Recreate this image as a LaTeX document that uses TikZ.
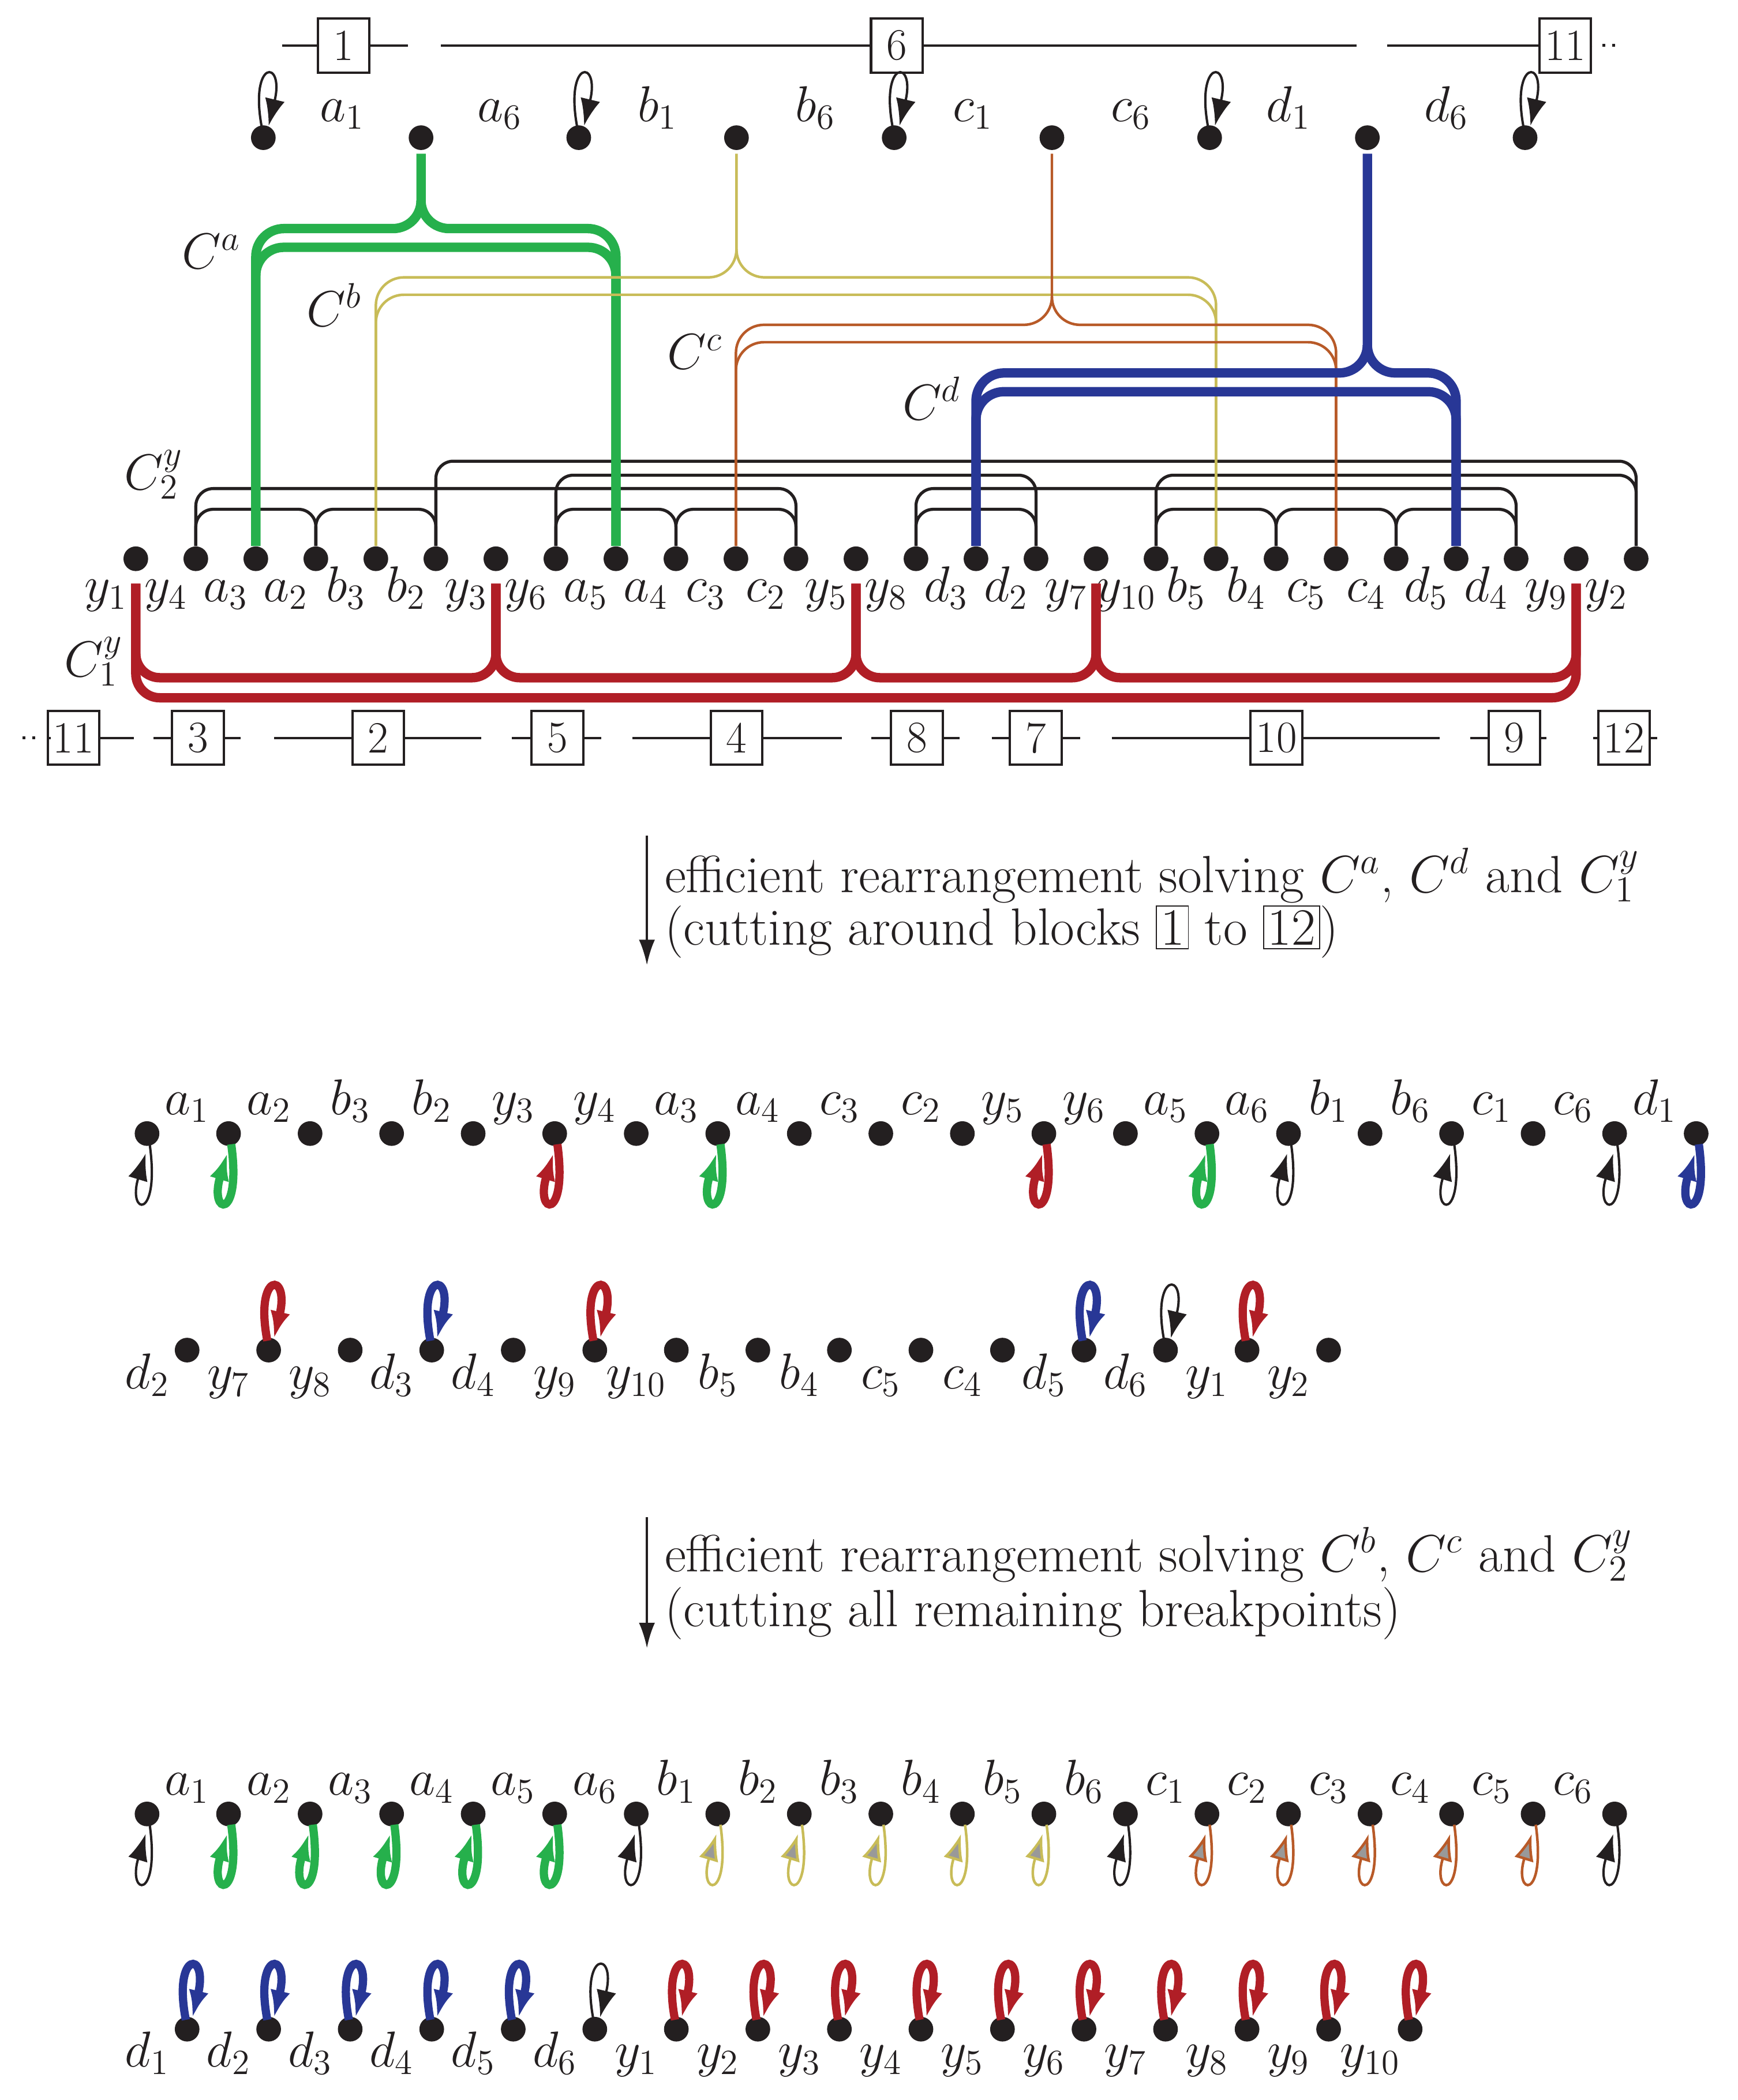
\documentclass[tikz,border=0pt]{standalone}
\usepackage{fix-cm}
\usetikzlibrary{arrows.meta,calc}
\definecolor{cg}{RGB}{38,176,76}
\definecolor{cy}{RGB}{200,188,88}
\definecolor{co}{RGB}{184,90,40}
\definecolor{cb}{RGB}{40,55,150}
\definecolor{cr}{RGB}{176,30,38}
\definecolor{ck}{RGB}{35,31,32}
\newcommand\mx[1]{101.6+44.9*#1}
\newcommand\uploop[2]{\draw[#1] ($(#2)+(-1,-7)$) .. controls +(-10,-52) and +(12,-50) .. ($(#2)+(4,-9)$);}
\newcommand\dnloop[2]{\draw[#1] ($(#2)+(2,8)$) .. controls +(8,58) and +(-14,46) .. ($(#2)+(-1,15)$);}
\newcommand\barch[3]{\draw[bk] (m#1.north) -- ({\mx{#1}},#3+13) to[out=90,in=180] ({\mx{#1}+13},#3) -- ({\mx{#2}-13},#3) to[out=0,in=90] ({\mx{#2}},#3+13) -- (m#2.north);}
\newcommand\rarch[3]{\draw[rd] ($(m#1.south)+(0,9)$) -- ({\mx{#1}},#3-18) to[out=-90,in=180] ({\mx{#1}+18},#3) -- ({\mx{#2}-18},#3) to[out=0,in=-90] ({\mx{#2}},#3-18) -- ($(m#2.south)+(0,9)$);}
\newcommand\ctree[7]{%
\draw[#1] ($(#2)+(0,12)$) -- (#3,#4-21) to[out=-90,in=0] (#3-21,#4) -- ({\mx{#6}+21},#4) to[out=180,in=90] ({\mx{#6}},#4+21) -- (m#6.north);
\draw[#1] (#3,#4-21) to[out=-90,in=180] (#3+21,#4) -- ({\mx{#7}-21},#4) to[out=0,in=90] ({\mx{#7}},#4+21) -- (m#7.north);
\draw[#1] (m#6.north) -- ({\mx{#6}},#5+21) to[out=90,in=180] ({\mx{#6}+21},#5) -- ({\mx{#7}-21},#5) to[out=0,in=90] ({\mx{#7}},#5+21) -- (m#7.north);}
\tikzset{
 dot/.style={circle,fill=ck,inner sep=0pt,minimum size=10.5},
 lab/.style={anchor=base,inner sep=0pt},
 blk/.style={draw=ck,line width=1pt,inner sep=0.8pt,minimum width=22,minimum height=23,font=\fontsize{19}{22}\selectfont},
 bl/.style={ck,line width=1pt,-{Latex[length=0.4cm,width=0.3cm]}},
 gl/.style={cg,line width=3.5pt,-{Latex[length=0.4cm,width=0.3cm]}},
 rl/.style={cr,line width=3.5pt,-{Latex[length=0.4cm,width=0.3cm]}},
 ul/.style={cb,line width=3.5pt,-{Latex[length=0.4cm,width=0.3cm]}},
 yl/.style={cy,line width=1.1pt,-{Latex[length=0.4cm,width=0.3cm,fill=gray!80]}},
 ol/.style={co,line width=1.1pt,-{Latex[length=0.4cm,width=0.3cm,fill=gray!80]}},
 bk/.style={ck,line width=1.3pt},
 rd/.style={cr,line width=4pt},
 gr/.style={cg,line width=4pt},
 yw/.style={cy,line width=1.1pt},
 or/.style={co,line width=1.1pt},
 bu/.style={cb,line width=4pt},
 seg/.style={ck,line width=1pt},
 txt/.style={anchor=west,inner sep=0pt,font=\fontsize{22.3}{26}\selectfont},
}
\begin{document}
\begin{tikzpicture}[x=0.02cm,y=-0.02cm,every node/.append style={font=\fontsize{21.5}{25}\selectfont,text=ck}]
\useasboundingbox (0,0) rectangle (1300,1571);
% top blocks
\node[blk] (T1) at (257,34) {1};
\node[blk] (T6) at (671,34) {6};
\node[blk] (T11) at (1171,34) {11};
\coordinate (ta) at (211,34); \coordinate (tb) at (305,34);
\coordinate (tc) at (330,34); \coordinate (td) at (1015,34);
\coordinate (te) at (1038,34); \coordinate (tf) at (1190,34);
\draw[seg] (ta) -- (T1) -- (tb);
\draw[seg] (tc) -- (T6) -- (td);
\draw[seg] (te) -- (T11) -- (tf);
\coordinate (tg) at (1199,34); \coordinate (th) at (1212,34);
\draw[ck,line width=1.2pt,dash pattern=on 1.2pt off 3pt] (tg) -- (th);
% top dots
\foreach \i in {0,...,8} \node[dot] (t\i) at ({197+118*\i},103) {};
\foreach \l [count=\k from 0] in {a_1,a_6,b_1,b_6,c_1,c_6,d_1,d_6} \node[lab] at ({256+118*\k},91) {$\l$};
\foreach \i in {0,2,4,6,8} {\uploop{bl}{t\i}}
% middle dots
\foreach \i in {0,...,25} \node[dot] (m\i) at ({\mx{\i}},418) {};
\foreach \l [count=\k from 0] in {y_1,y_4,a_3,a_2,b_3,b_2,y_3,y_6,a_5,a_4,c_3,c_2,y_5,y_8,d_3,d_2,y_7,y_{10},b_5,b_4,c_5,c_4,d_5,d_4,y_9,y_2}
  \node[lab] at ({\mx{\k}-22.45},450) {$\l$};
% black brackets
\barch{1}{3}{381}\barch{3}{5}{381}\barch{7}{9}{381}\barch{9}{11}{381}
\barch{13}{15}{381}\barch{17}{19}{381}\barch{19}{21}{381}\barch{21}{23}{381}
\barch{1}{11}{365.5}\barch{13}{23}{365.5}
\barch{7}{15}{355.5}\barch{17}{25}{355.5}
\barch{5}{25}{345}
% coloured trees
\ctree{gr}{t1}{315}{171}{185}{2}{8}
\ctree{yw}{t3}{551}{207.5}{220.5}{4}{18}
\ctree{or}{t5}{787}{243}{256}{10}{20}
\ctree{bu}{t7}{1023}{279}{293}{14}{22}
% red
\rarch{0}{6}{507}\rarch{6}{12}{507}\rarch{12}{16}{507}\rarch{16}{24}{507}
\rarch{0}{24}{522}
\node at (158,188) {$C^a$};
\node at (250,228) {$C^b$};
\node at (520,263) {$C^c$};
\node at (697,298) {$C^d$};
\node at (115,355) {$C^y_2$};
\node at (70,495) {$C^y_1$};
% bottom blocks
\foreach \n/\x/\a/\b in {11/55/38/100,3/148/115/180,2/283/205/360,5/417/383/450,4/551/473/630,8/686/652/718,7/775/742/808,10/955/832/1077,9/1133/1100/1157,12/1215/1192/1240}{
  \node[blk] (B\n) at (\x,552) {\n};
  \coordinate (Bl\n) at (\a,552); \coordinate (Br\n) at (\b,552);
  \draw[seg] (Bl\n) -- (B\n) -- (Br\n);}
\coordinate (ba) at (17,552); \coordinate (bb) at (31,552);
\draw[ck,line width=1.2pt,dash pattern=on 1.2pt off 3pt] (ba) -- (bb);
% first arrow
\coordinate (A1) at (484,625); \coordinate (A2) at (484,722);
\draw[ck,line width=1pt,-{Latex[length=0.38cm,width=0.24cm]}] (A1) -- (A2);
\node[txt] at (497,655) {efficient rearrangement solving $C^a$, $C^d$ and $C^y_1$};
\node[txt] at (497,697) {\setlength{\fboxsep}{1.5pt}(cutting around blocks \fbox{1} to \fbox{12})};
% row 1
\foreach \i in {0,...,19} \node[dot] (pA\i) at ({110+61*\i},848) {};
\foreach \l [count=\k from 0] in {a_1,a_2,b_3,b_2,y_3,y_4,a_3,a_4,c_3,c_2,y_5,y_6,a_5,a_6,b_1,b_6,c_1,c_6,d_1}
  \node[lab] at ({140+61*\k},834) {$\l$};
\foreach \i in {0,14,16,18} {\dnloop{bl}{pA\i}}
\foreach \i in {1,7,13} {\dnloop{gl}{pA\i}}
\foreach \i in {5,11} {\dnloop{rl}{pA\i}}
\dnloop{ul}{pA19}
% row 2
\foreach \i in {0,...,14} \node[dot] (pB\i) at ({140+61*\i},1010) {};
\foreach \l [count=\k from 0] in {d_2,y_7,y_8,d_3,d_4,y_9,y_{10},b_5,b_4,c_5,c_4,d_5,d_6,y_1,y_2}
  \node[lab] at ({110+61*\k},1039) {$\l$};
\foreach \i in {1,5,13} {\uploop{rl}{pB\i}}
\foreach \i in {3,11} {\uploop{ul}{pB\i}}
\uploop{bl}{pB12}
% second arrow
\coordinate (A3) at (484,1135); \coordinate (A4) at (484,1233);
\draw[ck,line width=1pt,-{Latex[length=0.38cm,width=0.24cm]}] (A3) -- (A4);
\node[txt] at (497,1163) {efficient rearrangement solving $C^b$, $C^c$ and $C^y_2$};
\node[txt] at (497,1207) {(cutting all remaining breakpoints)};
% row 3
\foreach \i in {0,...,18} \node[dot] (pC\i) at ({110+61*\i},1357) {};
\foreach \l [count=\k from 0] in {a_1,a_2,a_3,a_4,a_5,a_6,b_1,b_2,b_3,b_4,b_5,b_6,c_1,c_2,c_3,c_4,c_5,c_6}
  \node[lab] at ({140+61*\k},1343) {$\l$};
\foreach \i in {0,6,12,18} {\dnloop{bl}{pC\i}}
\foreach \i in {1,...,5} {\dnloop{gl}{pC\i}}
\foreach \i in {7,...,11} {\dnloop{yl}{pC\i}}
\foreach \i in {13,...,17} {\dnloop{ol}{pC\i}}
% row 4
\foreach \i in {0,...,15} \node[dot] (pD\i) at ({140+61*\i},1518) {};
\foreach \l [count=\k from 0] in {d_1,d_2,d_3,d_4,d_5,d_6,y_1,y_2,y_3,y_4,y_5,y_6,y_7,y_8,y_9,y_{10}}
  \node[lab] at ({110+61*\k},1546) {$\l$};
\foreach \i in {0,...,4} {\uploop{ul}{pD\i}}
\uploop{bl}{pD5}
\foreach \i in {6,...,15} {\uploop{rl}{pD\i}}
\end{tikzpicture}
\end{document}
